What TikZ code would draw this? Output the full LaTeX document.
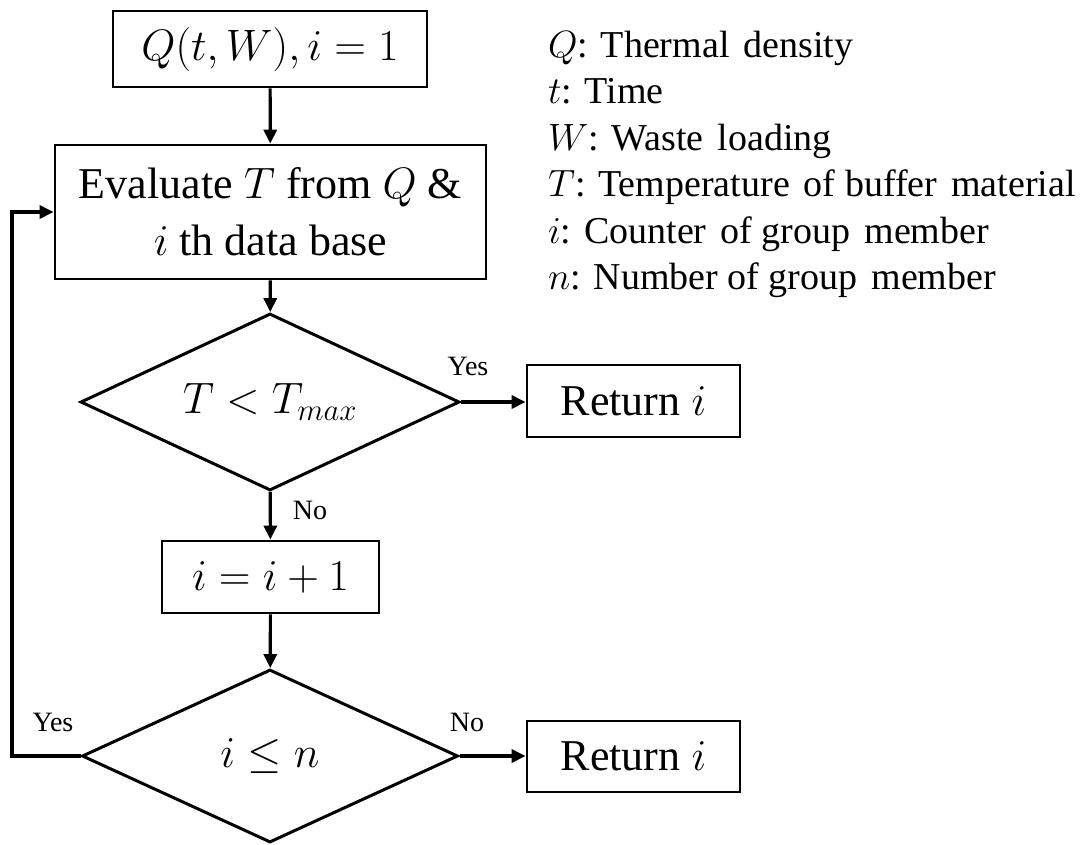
\RequirePackage{fix-cm}
\documentclass[tikz,border=0pt]{standalone}
\usepackage{fontspec}
\setmainfont{Liberation Serif}
\usetikzlibrary{shapes.geometric,arrows.meta}
\newcommand\bxfont{\fontsize{44}{57}\selectfont}
\newcommand\legfont{\fontsize{38}{46}\selectfont}
\newcommand\labfont{\fontsize{28}{32}\selectfont}
\newcommand\wsp{\hspace{0.12em}}
\tikzset{
  stepbox/.style={draw, line width=2.8pt, inner sep=0pt, align=center, font=\bxfont},
  decision/.style={draw, diamond, line width=3pt, inner sep=0pt, aspect=2.14, font=\bxfont},
  arr/.style={line width=3.2pt, -{Triangle[length=14pt,width=13pt]}},
  lab/.style={inner sep=0pt, font=\labfont},
  leg/.style={inner sep=0pt, anchor=base west, font=\legfont}
}
\begin{document}
\begin{tikzpicture}[x=1pt,y=-1pt]
\useasboundingbox (0,0) rectangle (1084,844);
% nodes
\node[stepbox, minimum width=314pt, minimum height=76pt] (start) at (270,49) {$Q(t,W), i=1$};
\node[stepbox, minimum width=431pt, minimum height=134pt] (eval) at (270.5,212) {Evaluate $T$ from $Q$ \&\\ $i$ th data base};
\node[decision, minimum width=379pt, minimum height=177pt] (d1) at (270,402) {$T<T_{max}$};
\node[stepbox, minimum width=213pt, minimum height=72pt] (ret1) at (633.5,401) {Return $i$};
\node[stepbox, minimum width=217pt, minimum height=72pt] (inc) at (270.5,577) {$i=i+1$};
\node[decision, minimum width=376pt, minimum height=173pt] (d2) at (270,756) {$i\le n$};
\node[stepbox, minimum width=213pt, minimum height=71pt] (ret2) at (633.5,756.5) {Return $i$};
\coordinate (loop) at (12,756);
% labels
\node[lab] (yes1) at (468,366) {Yes};
\node[lab] (no1) at (310,510) {No};
\node[lab] (yes2) at (53,722) {Yes};
\node[lab] (no2) at (467,722) {No};
% legend
\node[leg] (l1) at (548,57) {$Q$: Thermal\wsp{} density};
\node[leg] (l2) at (548,103.5) {$t$: Time};
\node[leg] (l3) at (548,150) {$W$: Waste\wsp{} loading};
\node[leg] (l4) at (548,196.5) {$T$: Temperature\wsp{} of buffer\wsp{} material};
\node[leg] (l5) at (548,243) {$i$: Counter\wsp{} of group\wsp{} member};
\node[leg] (l6) at (548,289.5) {$n$: Number of group\wsp{} member};
% connectors
\draw[arr] (start) -- (eval);
\draw[arr] (eval) -- (d1);
\draw[arr] (d1.east) -- (d1.east -| ret1.west);
\draw[arr] (d1) -- (inc);
\draw[arr] (inc) -- (d2);
\draw[arr] (d2.east) -- (d2.east -| ret2.west);
\draw[arr] (d2.west) -- (loop) |- (eval.west);
\end{tikzpicture}
\end{document}
